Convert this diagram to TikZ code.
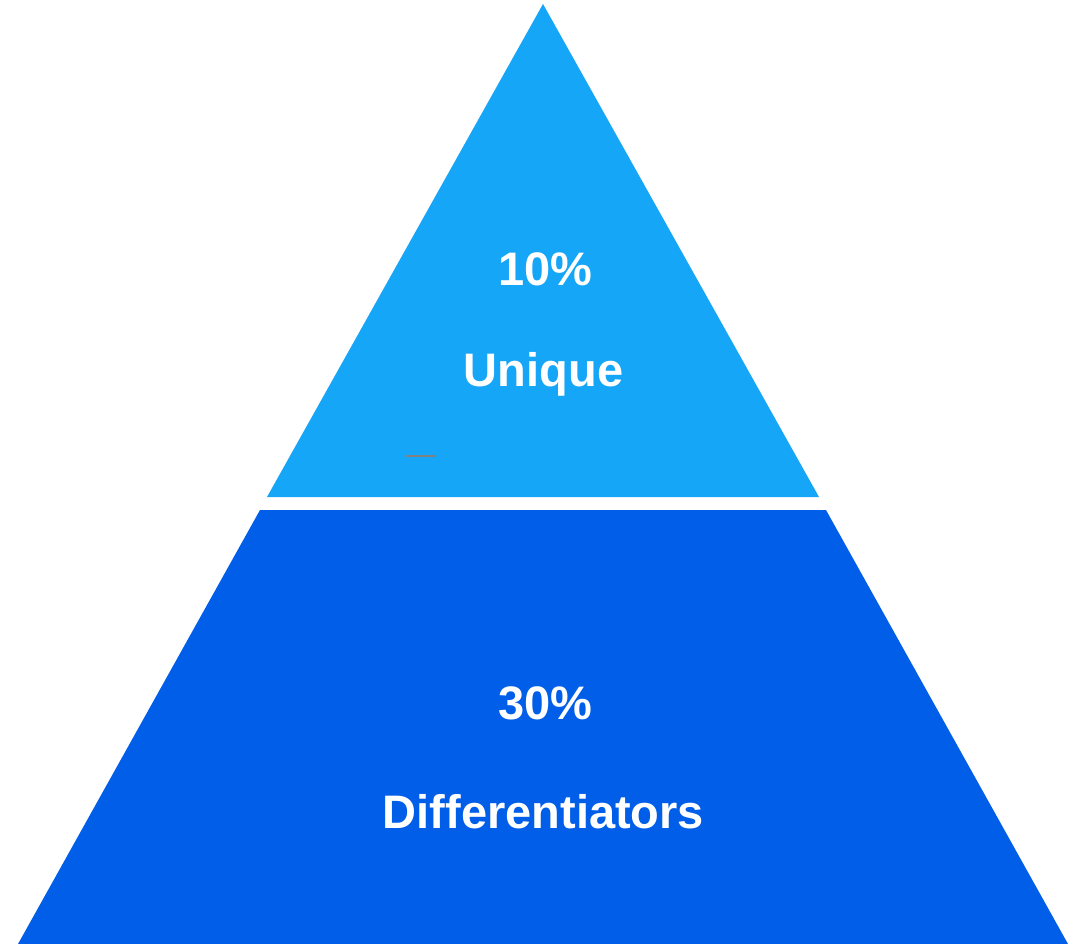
\documentclass[tikz,border=0pt]{standalone}
\usepackage{fontspec}
\setmainfont{Liberation Sans}
\definecolor{topblue}{HTML}{16A6F7}
\definecolor{botblue}{HTML}{005EE8}
\definecolor{dashgray}{HTML}{808080}
\begin{document}
\begin{tikzpicture}[x=1pt,y=-1pt,
  lbl/.style={text=white,font=\fontsize{47}{56}\selectfont\bfseries,inner sep=0pt,anchor=base}]
\useasboundingbox (0,0) rectangle (1081,944);
\fill[white] (0,0) rectangle (1081,944);
\fill[topblue] (543,4) -- (819,497) -- (267,497) -- cycle;
\fill[botblue] (260,510) -- (826,510) -- (1068,944) -- (18,944) -- cycle;
\draw[dashgray,line width=2pt] (406,456) -- (436,456);
\node[lbl] (p10) at (545.5,285.5) {10\%};
\node[lbl] (uq) at (543.5,386) {Unique};
\node[lbl] (p30) at (545.5,719.5) {30\%};
\node[lbl] (df) at (543.5,828.5) {Differentiators};
\end{tikzpicture}
\end{document}
